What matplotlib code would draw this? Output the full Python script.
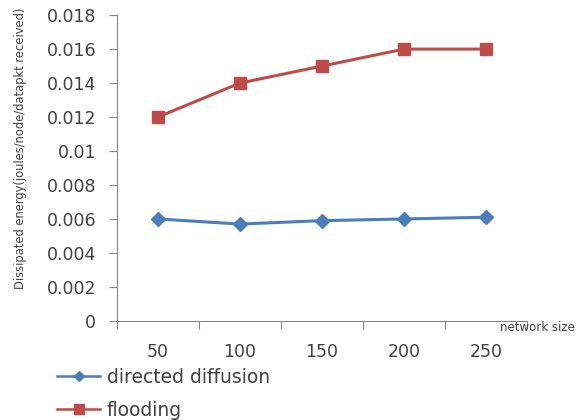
import matplotlib.pyplot as plt
import numpy as np

# data
network_size = ['50', '100', '150', '200', '250']
directed_diffusion = [0.006, 0.0057, 0.0059, 0.006, 0.0061]
flooding = [0.012, 0.014, 0.015, 0.016, 0.016]

blue = '#4a7ebb'
red = '#be4b48'
grey = '#868686'
txt = '#404040'

fig = plt.figure(figsize=(5.76, 4.2), dpi=100)
ax = fig.add_axes([0.203, 0.236, 0.712, 0.728])

x = np.arange(len(network_size))
ax.plot(x, directed_diffusion, color=blue, lw=2.2, marker='D', ms=7,
        label='directed diffusion')
ax.plot(x, flooding, color=red, lw=2.2, marker='s', ms=9,
        label='flooding')

ax.set_xlim(-0.5, len(network_size) - 0.5)
ax.set_ylim(0, 0.018)
ax.set_yticks(np.arange(0, 0.0181, 0.002))
ax.set_yticklabels(['0', '0.002', '0.004', '0.006', '0.008', '0.01',
                    '0.012', '0.014', '0.016', '0.018'])

# category boundaries as tick marks, labels in between
ax.set_xticks(np.arange(-0.5, len(network_size), 1.0))
ax.set_xticklabels([])
ax.set_xticks(x, minor=True)
ax.set_xticklabels(network_size, minor=True)
ax.tick_params(axis='both', which='major', direction='out', length=6,
               color=grey, pad=9)
ax.tick_params(axis='x', which='minor', length=0, pad=16)
ax.tick_params(axis='both', which='both', labelsize=12.5, labelcolor=txt)

for s in ['top', 'right']:
    ax.spines[s].set_visible(False)
for s in ['left', 'bottom']:
    ax.spines[s].set_color(grey)

ax.set_ylabel('Dissipated energy(joules/node/datapkt received)', fontsize=8.3,
              color=txt)
ax.yaxis.set_label_coords(-0.22, 0.565)
fig.text(0.998, 0.221, 'network size', ha='right', va='center',
         fontsize=8.5, color=txt)

leg = fig.legend(loc='lower left', bbox_to_anchor=(0.099, 0.0), frameon=False,
                 fontsize=13.5, handlelength=2.3, handletextpad=0.37,
                 labelspacing=0.76, borderpad=0, borderaxespad=0,
                 markerscale=0.8, labelcolor=txt)
for h in leg.get_lines():
    h.set_linewidth(1.8)

plt.savefig('out.png')
